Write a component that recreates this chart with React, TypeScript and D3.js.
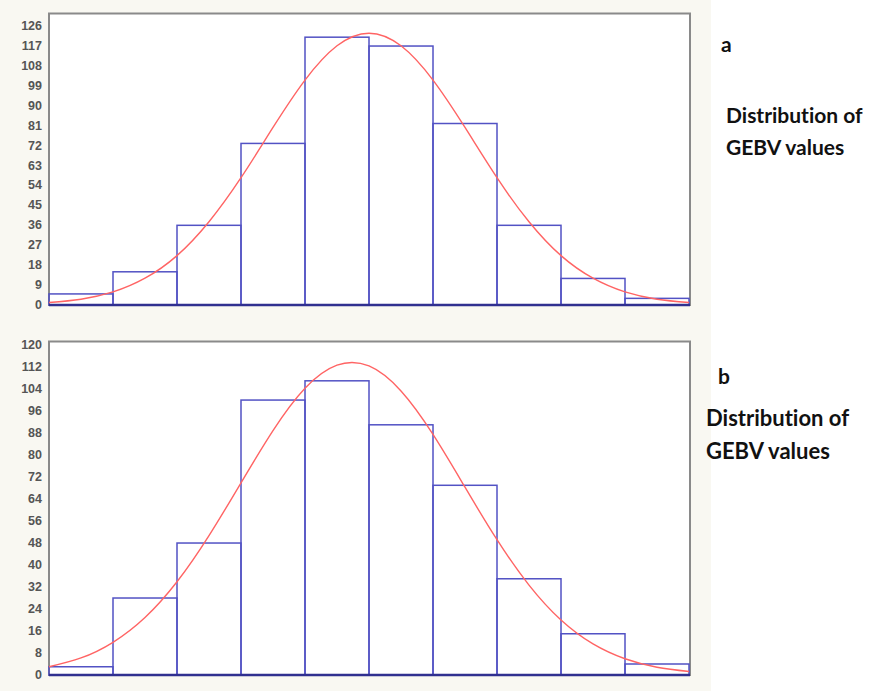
import React from "react";
import * as d3 from "d3";

// histogram bins (bin index along the GEBV axis)
const bins = [0, 1, 2, 3, 4, 5, 6, 7, 8, 9];
const countsA = [5, 15, 36, 73, 121, 117, 82, 36, 12, 3];
const countsB = [3, 28, 48, 100, 107, 91, 69, 35, 15, 4];

// fitted normal curve, read at half-bin positions
const curveX = [0, 0.5, 1, 1.5, 2, 2.5, 3, 3.5, 4, 4.5, 5, 5.5, 6, 6.5, 7, 7.5, 8, 8.5, 9, 9.5, 10];
const curveA = [1.1, 2.6, 5.9, 12.1, 22.3, 37.6, 57.5, 80.2, 101.6, 117.1, 122.8, 117.1, 101.6, 80.2, 57.5, 37.6, 22.3, 12.1, 5.9, 2.6, 1.1];
const curveB = [3.0, 6.2, 11.9, 20.9, 33.9, 50.7, 69.9, 88.9, 104.3, 112.7, 112.4, 103.3, 87.5, 68.3, 49.2, 32.7, 20.0, 11.3, 5.9, 2.8, 1.25];

const ticksA = [0, 9, 18, 27, 36, 45, 54, 63, 72, 81, 90, 99, 108, 117, 126];
const ticksB = [0, 8, 16, 24, 32, 40, 48, 56, 64, 72, 80, 88, 96, 104, 112, 120];

const panelLetters = ["a", "b"];
const panelTitle = ["Distribution of", "GEBV values"];

const W = 889;
const H = 691;

type PanelProps = {
  counts: number[];
  curve: number[];
  ticks: number[];
  yMax: number;
  top: number;
  base: number;
};

function Panel({ counts, curve, ticks, yMax, top, base }: PanelProps) {
  const x = d3.scaleLinear().domain([0, 10]).range([49, 689]);
  const y = d3.scaleLinear().domain([0, yMax]).range([base, top]);
  const line = d3
    .line<number>()
    .x((_, i) => x(curveX[i]))
    .y((d) => y(d))
    .curve(d3.curveNatural);
  return (
    <g>
      <rect x={49} y={top} width={641} height={base - top} fill="#ffffff" stroke="#8a8a8a" strokeWidth={2} />
      {ticks.map((t) => (
        <text
          key={t}
          x={42}
          y={y(t)}
          textAnchor="end"
          dominantBaseline="central"
          fontFamily="Liberation Sans, Arial, sans-serif"
          fontSize={12.5}
          fontWeight="bold"
          fill="#555555"
        >
          {t}
        </text>
      ))}
      {bins.map((b, i) => (
        <rect
          key={b}
          x={x(b)}
          y={y(counts[i])}
          width={x(b + 1) - x(b)}
          height={base - y(counts[i])}
          fill="none"
          stroke="#5252c4"
          strokeWidth={1.5}
        />
      ))}
      <line x1={49} x2={690} y1={base} y2={base} stroke="#303090" strokeWidth={2.5} />
      <path d={line(curve) || ""} fill="none" stroke="#ff6464" strokeWidth={1.4} />
    </g>
  );
}

export default function App() {
  const font = "Lato, 'Open Sans', sans-serif";
  return (
    <svg
      width={W}
      height={H}
      style={{ position: "absolute", left: 0, top: 0, display: "block" }}
    >
      <rect x={0} y={0} width={W} height={H} fill="#ffffff" />
      <rect x={0} y={0} width={711} height={H} fill="#f9f8f2" />
      <Panel counts={countsA} curve={curveA} ticks={ticksA} yMax={131.7} top={13.5} base={305} />
      <Panel counts={countsB} curve={curveB} ticks={ticksB} yMax={121.3} top={341.5} base={675} />
      <g fontFamily={font} fontWeight="bold" fill="#111" style={{ fontVariantLigatures: "none" }}>
        <text x={721} y={52} fontSize={21}>{panelLetters[0]}</text>
        <text x={726} y={123} fontSize={21}>{panelTitle[0]}</text>
        <text x={726} y={155} fontSize={21}>{panelTitle[1]}</text>
        <text x={718} y={384} fontSize={21}>{panelLetters[1]}</text>
        <text x={706} y={426} fontSize={22}>{panelTitle[0]}</text>
        <text x={706} y={459} fontSize={22}>{panelTitle[1]}</text>
      </g>
    </svg>
  );
}
